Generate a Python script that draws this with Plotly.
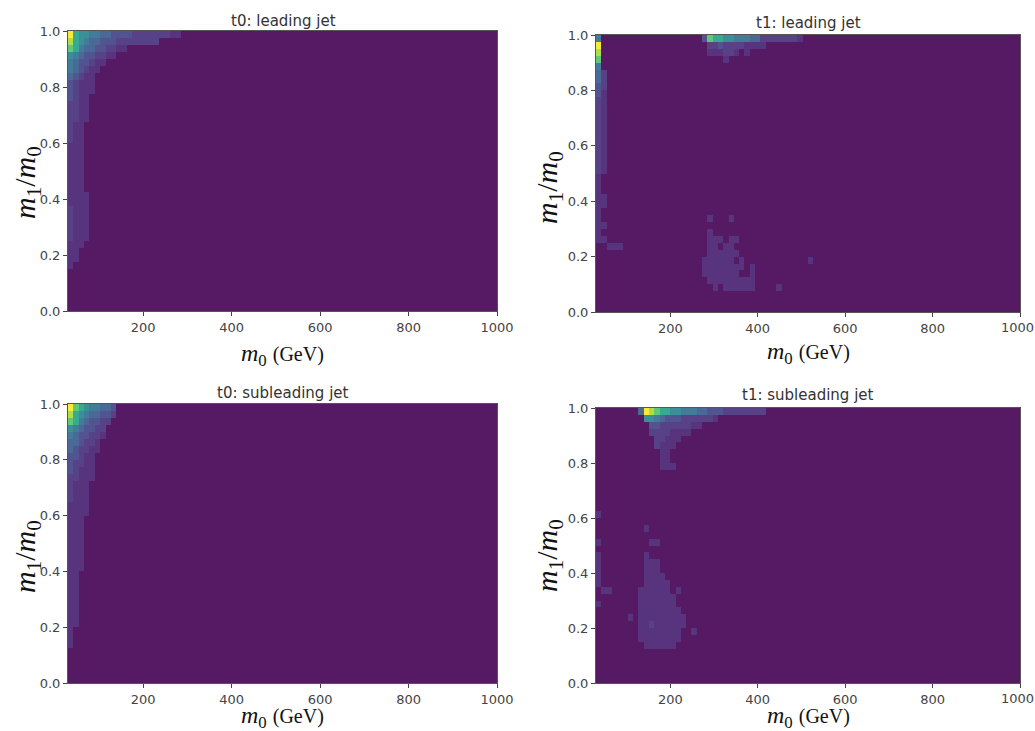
import plotly.graph_objects as go

W, H = 1035, 731
N_X, N_Y = 80, 40
M_MIN, M_MAX = 30, 1000

# Colour level for each symbol used in the rows below
LEVELS = {"0": 0, "1": .085, "2": .13, "3": .2, "4": .28, "5": .36, "6": .45,
          "7": .57, "8": .72, "9": .87, "a": 1.0}

# Each entry: row from the top -> list of (first column, levels)
T0_LEADING = {
    0: [(0, "a76655443333222222211")],
    1: [(0, "97654433322222222")],
    2: [(0, "87544332211")],
    3: [(0, "654332211")],
    4: [(0, "5433211")],
    5: [(0, "543211")],
    6: [(0, "43211")],
    7: [(0, "32111")],
    8: [(0, "32111")],
    9: [(0, "3211")],
    10: [(0, "2211")],
    11: [(0, "2211")],
    12: [(0, "2211")],
    13: [(0, "211")],
    14: [(0, "211")],
    15: [(0, "211")],
    16: [(0, "111")],
    17: [(0, "111")],
    18: [(0, "111")],
    19: [(0, "111")],
    20: [(0, "111")],
    21: [(0, "111")],
    22: [(0, "111")],
    23: [(0, "1111")],
    24: [(0, "1111")],
    25: [(0, "2111")],
    26: [(0, "2111")],
    27: [(0, "2111")],
    28: [(0, "2111")],
    29: [(0, "2111")],
    30: [(0, "111")],
    31: [(0, "11")],
    32: [(0, "11")],
    33: [(0, "1")],
}

T1_LEADING = {
    0: [(0, "5"), (20, "3877665554422222221")],
    1: [(0, "a"), (21, "22322221111")],
    2: [(0, "9"), (21, "111221"), (28, "1")],
    3: [(0, "8"), (24, "1")],
    4: [(0, "5")],
    5: [(0, "42")],
    6: [(0, "42")],
    7: [(0, "32")],
    8: [(0, "31")],
    9: [(0, "21")],
    10: [(0, "21")],
    11: [(0, "21")],
    12: [(0, "21")],
    13: [(0, "21")],
    14: [(0, "21")],
    15: [(0, "21")],
    16: [(0, "21")],
    17: [(0, "21")],
    18: [(0, "21")],
    19: [(0, "21")],
    20: [(0, "1")],
    21: [(0, "1")],
    22: [(0, "1")],
    23: [(0, "11")],
    24: [(0, "11")],
    25: [(0, "1")],
    26: [(0, "1"), (21, "1"), (25, "1")],
    27: [(0, "1"), (1, "1")],
    28: [(0, "1"), (21, "1")],
    29: [(0, "11"), (21, "111"), (25, "11")],
    30: [(2, "111"), (21, "11"), (24, "11")],
    31: [(21, "111111")],
    32: [(20, "111111"), (27, "1"), (40, "1")],
    33: [(20, "11111111"), (29, "1")],
    34: [(20, "1111111"), (29, "1")],
    35: [(21, "111111111")],
    36: [(22, "1"), (24, "111111"), (34, "1")],
}

T0_SUBLEADING = {
    0: [(0, "a87655443")],
    1: [(0, "976544332")],
    2: [(0, "87543322")],
    3: [(0, "6543322")],
    4: [(0, "5433221")],
    5: [(0, "443221")],
    6: [(0, "432211")],
    7: [(0, "33211")],
    8: [(0, "32211")],
    9: [(0, "32111")],
    10: [(0, "22111")],
    11: [(0, "2111")],
    12: [(0, "2111")],
    13: [(0, "2111")],
    14: [(0, "1111")],
    15: [(0, "1111")],
    16: [(0, "111")],
    17: [(0, "111")],
    18: [(0, "111")],
    19: [(0, "111")],
    20: [(0, "111")],
    21: [(0, "111")],
    22: [(0, "111")],
    23: [(0, "111")],
    24: [(0, "11")],
    25: [(0, "11")],
    26: [(0, "11")],
    27: [(0, "11")],
    28: [(0, "11")],
    29: [(0, "11")],
    30: [(0, "11")],
    31: [(0, "11")],
    32: [(0, "1")],
    33: [(0, "1")],
    34: [(0, "1")],
}

T1_SUBLEADING = {
    0: [(8, "4a9877665554433322222222")],
    1: [(9, "66543332222221")],
    2: [(10, "3322222211")],
    3: [(10, "22221111")],
    4: [(11, "22111")],
    5: [(11, "2111")],
    6: [(12, "11")],
    7: [(12, "11")],
    8: [(12, "111")],
    15: [(0, "1")],
    17: [(9, "1")],
    19: [(0, "1"), (10, "1"), (11, "1")],
    21: [(0, "1"), (9, "1")],
    22: [(0, "1"), (9, "111")],
    23: [(0, "1"), (9, "111")],
    24: [(0, "1"), (9, "111"), (12, "1")],
    25: [(0, "1"), (9, "1111"), (13, "1")],
    26: [(1, "11"), (8, "1111"), (12, "11"), (15, "1")],
    27: [(8, "1111111")],
    28: [(0, "1"), (8, "1111111")],
    29: [(8, "11111111")],
    30: [(6, "1"), (8, "111111111")],
    31: [(8, "112111111")],
    32: [(8, "11111111"), (18, "1")],
    33: [(8, "11111111")],
    34: [(9, "111111")],
}

TITLES = ["t0: leading jet", "t1: leading jet", "t0: subleading jet", "t1: subleading jet"]
PANELS = [T0_LEADING, T1_LEADING, T0_SUBLEADING, T1_SUBLEADING]
# plot areas in pixels: left, right, top, bottom
BOXES = [(68, 497, 31, 311), (596, 1020, 35, 312), (68, 497, 404, 683), (596, 1020, 408, 683)]
TITLE_POS = [(283, 21), (808, 23), (283, 393), (808, 395)]
XLABEL_Y = [355, 353, 717, 717]
YLABEL_X = [27, 549, 27, 549]
YLABEL_Y = [183, 188, 557, 556]
X_TICKS = [200, 400, 600, 800, 1000]
X_TICK_TEXT = ["200", "400", "600", "800", "1000"]
Y_TICKS = [0.0, 0.2, 0.4, 0.6, 0.8, 1.0]
X_LABEL = '<i>m</i><sub>0</sub> <span style="font-size:20px">(GeV)</span>'
Y_LABEL = "<i>m</i><sub>1</sub>/<i>m</i><sub>0</sub>"
SERIF = "Liberation Serif"
SANS = "DejaVu Sans"
TICK_FONT = dict(family=SANS, size=13, color="#444444")


def grid(rows):
    z = [[0.0] * N_X for _ in range(N_Y)]
    for r, runs in rows.items():
        for start, text in runs:
            for i, ch in enumerate(text):
                z[N_Y - 1 - r][start + i] = LEVELS[ch]
    return z


fig = go.Figure()
dx = (M_MAX - M_MIN) / N_X
dy = 1 / N_Y
annotations = []
for i, (rows, box, title, tp) in enumerate(zip(PANELS, BOXES, TITLES, TITLE_POS)):
    n = "" if i == 0 else str(i + 1)
    l, r, t, b = box
    fig.add_trace(go.Heatmap(z=grid(rows), x0=M_MIN + dx / 2, dx=dx, y0=dy / 2, dy=dy,
                             colorscale="Viridis", zmin=0, zmax=1, showscale=False,
                             opacity=0.9, xaxis="x" + n, yaxis="y" + n))
    # the last label of the right-hand panels would overflow the page and be dropped,
    # so it is placed by hand against the page edge
    tick_text = X_TICK_TEXT if r < 1000 else X_TICK_TEXT[:-1] + [""]
    axis = dict(showgrid=False, zeroline=False, showline=True, mirror=True, linecolor="#555555",
                linewidth=1, ticks="outside", ticklen=4, tickcolor="#444444", tickwidth=1,
                automargin=False, tickfont=TICK_FONT)
    fig.update_layout({
        "xaxis" + n: dict(axis, domain=[l / W, r / W], range=[M_MIN, M_MAX], tickvals=X_TICKS,
                          ticktext=tick_text, anchor="y" + n),
        "yaxis" + n: dict(axis, domain=[1 - b / H, 1 - t / H], range=[0, 1], tickvals=Y_TICKS,
                          tickformat=".1f", anchor="x" + n),
    })
    if r >= 1000:
        annotations.append(dict(text=X_TICK_TEXT[-1], x=1.0, y=1 - (b + 15) / H, xref="paper", yref="paper",
                                showarrow=False, xanchor="right", yanchor="middle", borderpad=0,
                                font=TICK_FONT))
    annotations.append(dict(text=title, x=tp[0] / W, y=1 - tp[1] / H, xref="paper", yref="paper",
                            showarrow=False, xanchor="center", yanchor="middle",
                            font=dict(family=SANS, size=15, color="#333333")))
    annotations.append(dict(text=X_LABEL, x=(l + r) / 2 / W, y=1 - XLABEL_Y[i] / H, xref="paper", yref="paper",
                            showarrow=False, xanchor="center", yanchor="middle",
                            font=dict(family=SERIF, size=24, color="#111111")))
    annotations.append(dict(text=Y_LABEL, x=YLABEL_X[i] / W, y=1 - YLABEL_Y[i] / H, xref="paper", yref="paper",
                            showarrow=False, xanchor="center", yanchor="middle", textangle=-90,
                            font=dict(family=SERIF, size=30, color="#111111")))

fig.update_layout(width=W, height=H, margin=dict(l=0, r=0, t=0, b=0, autoexpand=False),
                  paper_bgcolor="white", plot_bgcolor="white", annotations=annotations)
fig.write_html("out.html", config={"displayModeBar": False},
               post_script="document.body.style.margin='0';document.body.style.overflow='hidden';")
